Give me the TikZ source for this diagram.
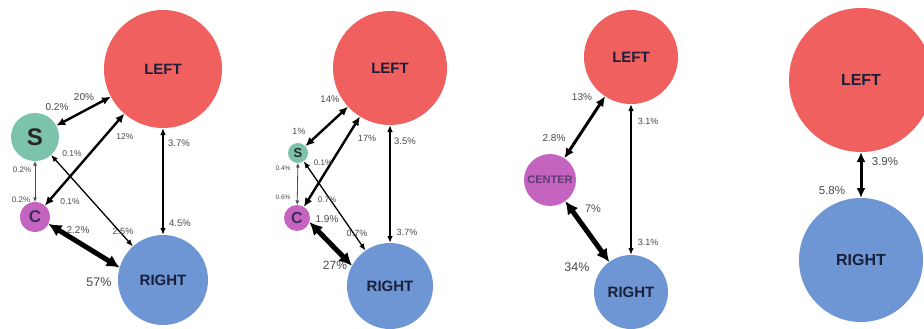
\documentclass[tikz,border=0pt]{standalone}
\usepackage{fontspec}
\setmainfont{Liberation Sans}
\usetikzlibrary{arrows.meta}
\definecolor{cleft}{HTML}{F0605E}
\definecolor{cright}{HTML}{6E96D4}
\definecolor{cs}{HTML}{7CC3AE}
\definecolor{cc}{HTML}{C564C0}
\definecolor{labgray}{HTML}{4A4A4A}
\definecolor{navy}{HTML}{1A1F3A}
\tikzset{
  blob/.style={circle, inner sep=0pt, outer sep=0pt, draw=none, font=\bfseries},
  lab/.style={text=labgray, inner sep=0pt, font=\fontsize{#1}{#1}\selectfont},
  lab/.default=10,
  thinar/.style={line width=1.3pt, {Latex[length=7pt,width=5.5pt]}-{Latex[length=7pt,width=5.5pt]}},
  hairar/.style={line width=0.8pt, draw=black!70, {Latex[length=4.5pt,width=4pt]}-{Latex[length=4.5pt,width=4pt]}},
  medar/.style={line width=2.4pt, {Latex[length=9pt,width=8pt]}-{Latex[length=9pt,width=8pt]}},
  bigar/.style={line width=3pt, {Latex[length=10pt,width=9pt]}-{Latex[length=10pt,width=9pt]}},
  hugear/.style={line width=5pt, {Latex[length=13pt,width=13pt]}-{Latex[length=13pt,width=13pt]}},
}
\begin{document}
\begin{tikzpicture}[x=1pt,y=-1pt]
\useasboundingbox (0,0) rectangle (924,329);
\fill[white] (0,0) rectangle (924,329);
\begin{scope}
\clip (0,0) rectangle (924,329);
% ---------- Panel 1 ----------
\node[blob, fill=cleft, minimum size=118pt, text=navy, font=\bfseries\fontsize{15}{15}\selectfont] (L1) at (163,69) {LEFT};
\node[blob, fill=cright, minimum size=90pt, text=navy, font=\bfseries\fontsize{15}{15}\selectfont] (R1) at (163,280) {RIGHT};
\node[blob, fill=cs, minimum size=48pt, text=black!85, font=\bfseries\fontsize{24}{24}\selectfont] (S1) at (35,137) {S};
\node[blob, fill=cc, minimum size=30pt, text=navy!80!cc, font=\bfseries\fontsize{17}{17}\selectfont] (C1) at (35,217) {C};
\draw[medar] (S1) -- (L1);
\draw[medar] (C1) -- (L1);
\draw[hairar] (S1) -- (C1);
\draw[thinar] (S1) -- (R1);
\draw[hugear] (C1.-27) -- (R1.164);
\draw[thinar] (L1) -- (R1);
\node[lab=10] (p1a) at (84,97) {20\%};
\node[lab=10] (p1b) at (57,107) {0.2\%};
\node[lab=8.5] (p1c) at (125,137) {12\%};
\node[lab=8.5] (p1d) at (72,154) {0.1\%};
\node[lab=8] (p1e) at (22,170) {0.2\%};
\node[lab=8] (p1f) at (21,200) {0.2\%};
\node[lab=8.5] (p1g) at (70,202) {0.1\%};
\node[lab=10] (p1h) at (78,230) {2.2\%};
\node[lab=9] (p1i) at (123,231) {2.5\%};
\node[lab=9.5] (p1j) at (179,143) {3.7\%};
\node[lab=9.5] (p1k) at (180,223) {4.5\%};
\node[lab=12.5] (p1l) at (99,282) {57\%};
% ---------- Panel 2 ----------
\node[blob, fill=cleft, minimum size=114pt, text=navy, font=\bfseries\fontsize{15}{15}\selectfont] (L2) at (390,68) {LEFT};
\node[blob, fill=cright, minimum size=86pt, text=navy, font=\bfseries\fontsize{15}{15}\selectfont] (R2) at (390,286) {RIGHT};
\node[blob, fill=cs, minimum size=20pt, text=black!85, font=\bfseries\fontsize{13}{13}\selectfont] (S2) at (298,153) {S};
\node[blob, fill=cc, minimum size=26pt, text=navy!80!cc, font=\bfseries\fontsize{16}{16}\selectfont] (C2) at (297,218) {C};
\draw[medar] (S2) -- (L2);
\draw[medar] (C2) -- (L2);
\draw[hairar] (S2) -- (C2);
\draw[thinar] (S2) -- (R2);
\draw[hugear] (C2.-18) -- (R2.152);
\draw[thinar] (L2) -- (R2);
\node[lab=9.5] (p2a) at (330,99) {14\%};
\node[lab=9] (p2b) at (299,131) {1\%};
\node[lab=9] (p2c) at (367,138) {17\%};
\node[lab=9.5] (p2d) at (405,141) {3.5\%};
\node[lab=8] (p2e) at (323,163) {0.1\%};
\node[lab=6.5] (p2f) at (283,168) {0.4\%};
\node[lab=6.5] (p2g) at (283,197) {0.6\%};
\node[lab=8] (p2h) at (327,200) {0.7\%};
\node[lab=10] (p2i) at (327,219) {1.9\%};
\node[lab=9] (p2j) at (357,233) {0.7\%};
\node[lab=9] (p2k) at (407,232) {3.7\%};
\node[lab=12] (p2l) at (335,265) {27\%};
% ---------- Panel 3 ----------
\node[blob, fill=cleft, minimum size=94pt, text=navy, font=\bfseries\fontsize{15}{15}\selectfont] (L3) at (631,57) {LEFT};
\node[blob, fill=cright, minimum size=74pt, text=navy, font=\bfseries\fontsize{15}{15}\selectfont] (R3) at (631,292) {RIGHT};
\node[blob, fill=cc, minimum size=52pt, text=navy!60!cc, font=\bfseries\fontsize{11}{11}\selectfont] (CE3) at (550,180) {CENTER};
\draw[bigar] (CE3) -- (L3);
\draw[hugear] (CE3) -- (R3);
\draw[thinar] (L3) -- (R3);
\node[lab=10] (p3a) at (582,97) {13\%};
\node[lab=10] (p3b) at (554,138) {2.8\%};
\node[lab=9] (p3c) at (648,121) {3.1\%};
\node[lab=11] (p3d) at (593,209) {7\%};
\node[lab=9] (p3e) at (648,242) {3.1\%};
\node[lab=12.5] (p3f) at (577,267) {34\%};
% ---------- Panel 4 ----------
\node[blob, fill=cleft, minimum size=144pt, text=navy, font=\bfseries\fontsize{16}{16}\selectfont] (L4) at (861,80) {LEFT};
\node[blob, fill=cright, minimum size=124pt, text=navy, font=\bfseries\fontsize{16}{16}\selectfont] (R4) at (861,260) {RIGHT};
\draw[bigar] (L4) -- (R4);
\node[lab=11.5] (p4a) at (885,162) {3.9\%};
\node[lab=11.5] (p4b) at (832,191) {5.8\%};
\end{scope}
\end{tikzpicture}
\end{document}
